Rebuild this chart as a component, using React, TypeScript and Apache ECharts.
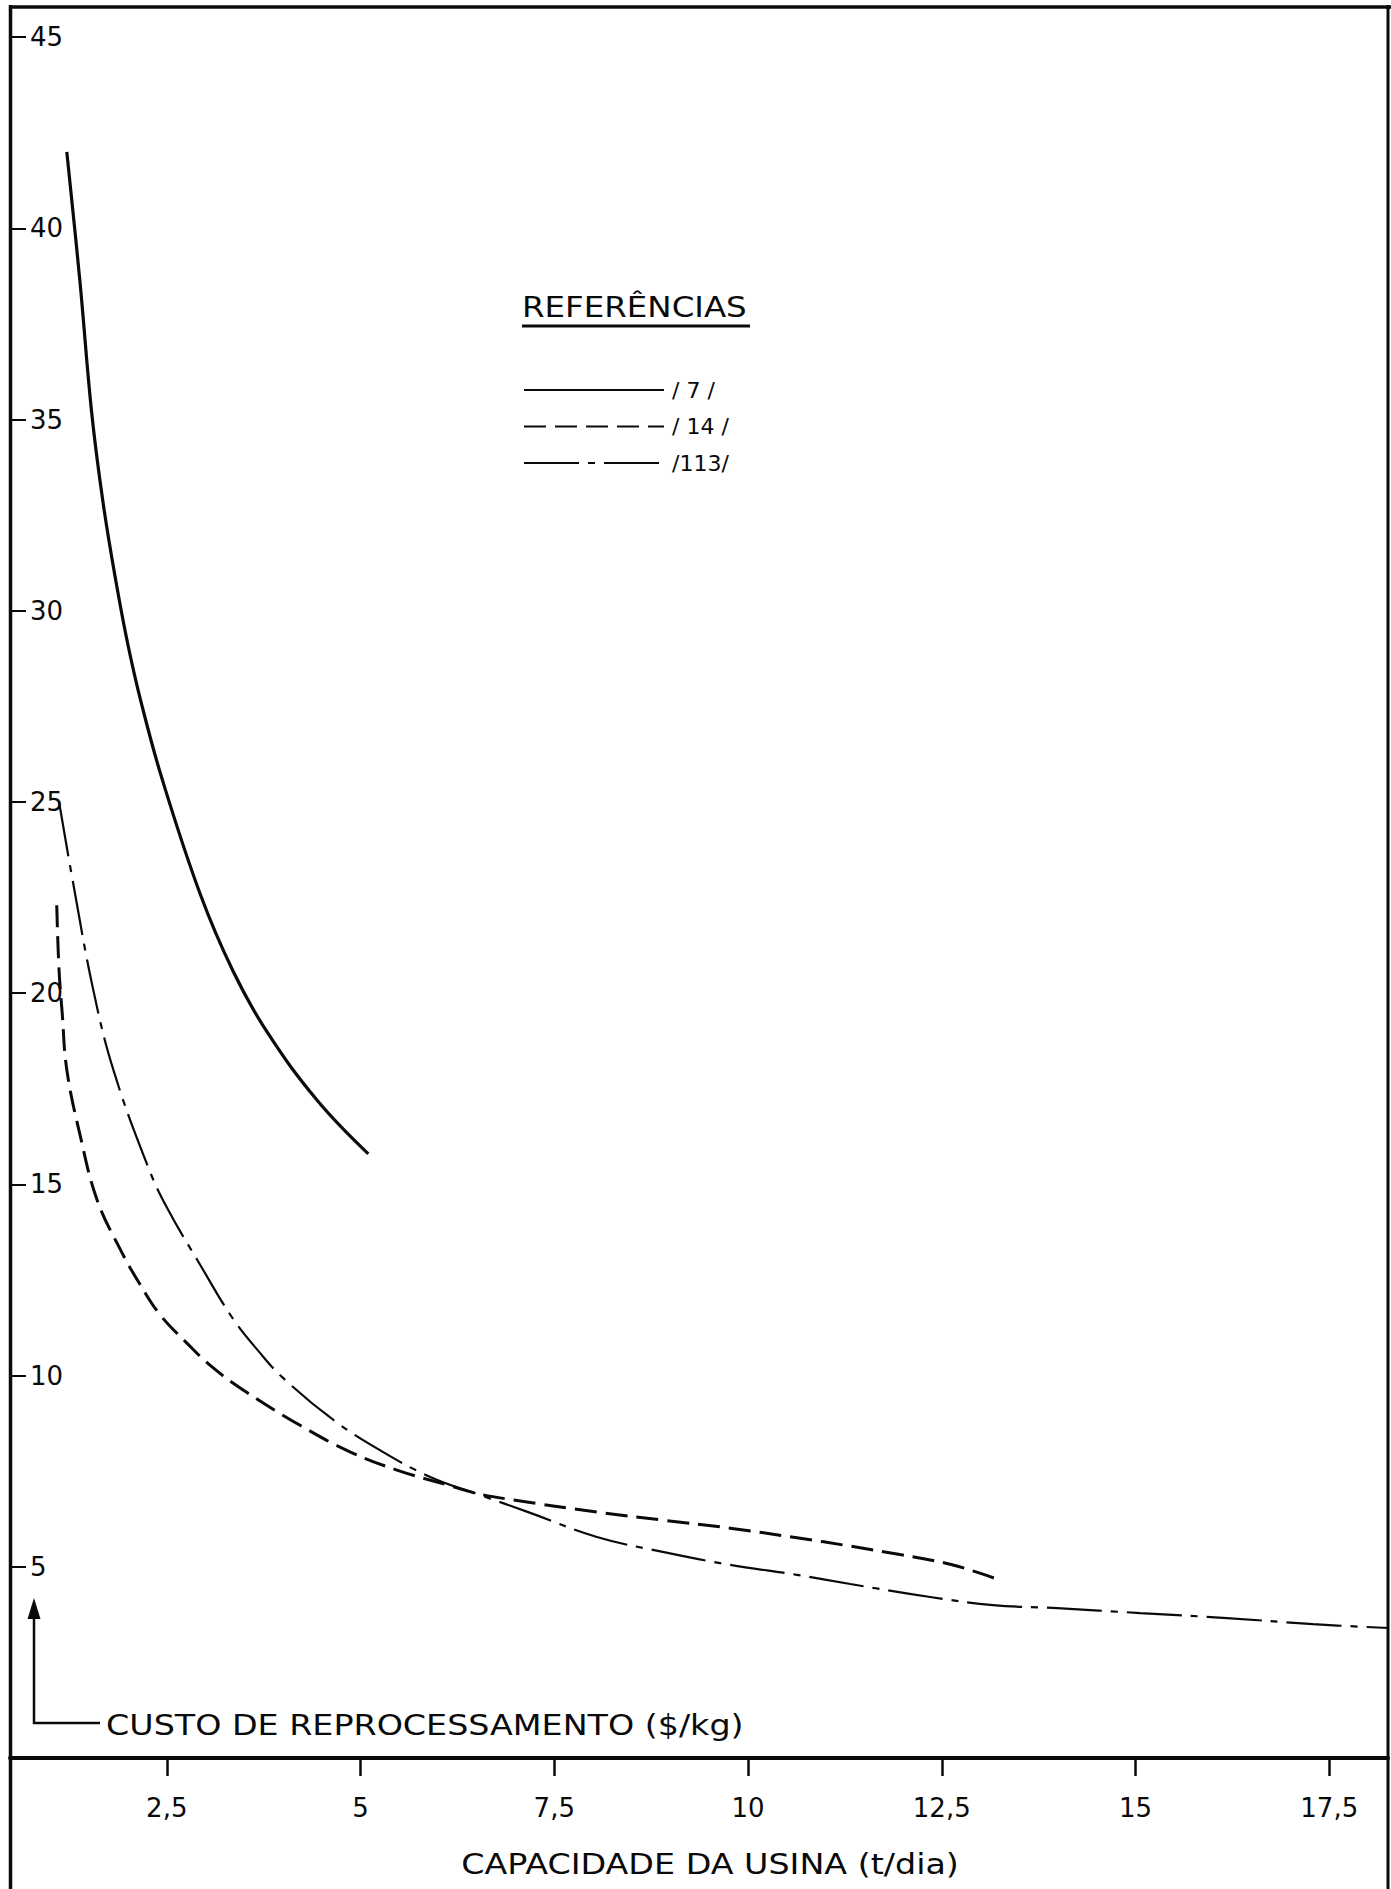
import React, { useEffect, useRef } from "react";
import * as echarts from "echarts";

// ---- Axis ticks ----
const xTickValues = [2.5, 5, 7.5, 10, 12.5, 15, 17.5];
const yTickValues = [5, 10, 15, 20, 25, 30, 35, 40, 45];

// ---- Series: /7/ (solid) ----
const ref7X = [1.21, 1.38, 1.53, 1.68, 1.85, 2.0, 2.17, 2.44, 2.93, 3.35, 3.79, 4.44, 5.1];
const ref7Y = [42.0, 38.6, 35.2, 32.8, 30.7, 29.1, 27.6, 25.6, 22.6, 20.6, 19.0, 17.2, 15.8];

// ---- Series: /14/ (dashed) ----
const ref14X = [1.08, 1.11, 1.15, 1.21, 1.38, 1.6, 1.9, 2.15, 2.41, 2.76, 3.1, 3.54, 4.22, 4.87, 5.47, 6.12, 6.54, 6.97, 8.05, 8.9, 9.77, 10.63, 11.32, 11.96, 12.3, 12.62, 12.92, 13.21];
const ref14Y = [22.3, 20.6, 19.5, 18.0, 16.3, 14.6, 13.3, 12.4, 11.6, 10.85, 10.2, 9.55, 8.7, 8.0, 7.53, 7.14, 6.9, 6.75, 6.43, 6.22, 6.01, 5.76, 5.54, 5.32, 5.2, 5.06, 4.88, 4.68];

// ---- Series: /113/ (dash-dot) ----
const ref113X = [1.11, 1.29, 1.55, 1.81, 2.25, 2.5, 2.93, 3.35, 3.7, 4.0, 4.65, 5.25, 5.9, 6.54, 7.19, 8.05, 8.9, 9.77, 10.63, 11.32, 12.35, 13.16, 13.99, 15.06, 16.18, 17.29, 18.26];
const ref113Y = [25.0, 22.9, 20.1, 18.0, 15.5, 14.4, 12.9, 11.5, 10.6, 9.94, 8.84, 8.05, 7.35, 6.88, 6.41, 5.78, 5.39, 5.05, 4.79, 4.55, 4.21, 4.0, 3.92, 3.79, 3.66, 3.5, 3.4];

const seriesNames = ["/ 7 /", "/ 14 /", "/113/"];
const legendTitle = "REFERÊNCIAS";
const xAxisTitle = "CAPACIDADE DA USINA (t/dia)";
const yAxisTitle = "CUSTO DE REPROCESSAMENTO ($/kg)";

const FONT = "DejaVu Sans";
const INK = "#0a0a0a";

const zip = (xs: number[], ys: number[]) => xs.map((x, i) => [x, ys[i]]);

export default function App() {
  const ref = useRef<HTMLDivElement>(null);

  useEffect(() => {
    if (!ref.current) return;
    const chart = echarts.init(ref.current, null, { renderer: "svg" });

    const option: any = {
      animation: false,
      backgroundColor: "#ffffff",
      color: [INK, INK, INK],
      grid: { left: 10, right: 3, top: 7, bottom: 131, containLabel: false },
      xAxis: {
        type: "value",
        min: 0.477,
        max: 18.258,
        axisLine: { show: true, onZero: false, lineStyle: { color: INK, width: 4 } },
        axisTick: {
          show: true,
          customValues: xTickValues,
          length: 18,
          lineStyle: { color: INK, width: 2.5 },
        },
        axisLabel: {
          show: true,
          customValues: xTickValues,
          margin: 37,
          fontSize: 26,
          color: INK,
          fontFamily: FONT,
          formatter: (v: number) => String(v).replace(".", ","),
        },
        splitLine: { show: false },
      },
      yAxis: {
        type: "value",
        min: 0,
        max: 45.79,
        axisLine: { show: false },
        axisTick: {
          show: true,
          inside: true,
          customValues: yTickValues,
          length: 16,
          lineStyle: { color: INK, width: 2 },
        },
        axisLabel: {
          show: true,
          inside: true,
          customValues: yTickValues,
          margin: 20,
          fontSize: 26,
          color: INK,
          fontFamily: FONT,
        },
        splitLine: { show: false },
      },
      legend: {
        orient: "vertical",
        left: 523,
        top: 379,
        padding: 0,
        itemWidth: 140,
        itemHeight: 14,
        itemGap: 14.5,
        selectedMode: false,
        data: seriesNames,
        itemStyle: { color: "rgba(0,0,0,0)", borderWidth: 0, opacity: 0 },
        textStyle: { fontSize: 22, color: INK, fontFamily: FONT, lineHeight: 22, padding: [0, 0, 0, 3] },
      },
      series: [
        {
          type: "line",
          name: seriesNames[0],
          data: zip(ref7X, ref7Y),
          symbol: "none",
          smooth: 0.4,
          lineStyle: { color: INK, width: 3.2, type: "solid" },
        },
        {
          type: "line",
          name: seriesNames[1],
          data: zip(ref14X, ref14Y),
          symbol: "none",
          smooth: 0.4,
          lineStyle: { color: INK, width: 3, type: [22, 9] },
        },
        {
          type: "line",
          name: seriesNames[2],
          data: zip(ref113X, ref113Y),
          symbol: "none",
          smooth: 0.4,
          lineStyle: { color: INK, width: 2.2, type: [55, 9, 7, 9] },
        },
      ],
      graphic: [
        // frame
        { type: "line", shape: { x1: 10.5, y1: 5, x2: 10.5, y2: 1889 }, style: { stroke: INK, lineWidth: 3.5 } },
        { type: "line", shape: { x1: 1388, y1: 5, x2: 1388, y2: 1889 }, style: { stroke: INK, lineWidth: 3 } },
        { type: "line", shape: { x1: 9, y1: 7, x2: 1391, y2: 7 }, style: { stroke: INK, lineWidth: 3.5 } },
        // legend title
        {
          type: "text",
          x: 522,
          y: 307,
          scaleX: 1.16,
          style: { text: legendTitle, fontSize: 28, fontFamily: FONT, fill: INK, verticalAlign: "middle", textAlign: "left" },
        },
        { type: "line", shape: { x1: 522, y1: 326, x2: 750, y2: 326 }, style: { stroke: INK, lineWidth: 3 } },
        // y-axis title with arrow
        { type: "polyline", shape: { points: [[100, 1723], [34, 1723], [34, 1614]] }, style: { stroke: INK, lineWidth: 2.5, fill: "none" } },
        { type: "polygon", shape: { points: [[34, 1598], [27.5, 1619], [40.5, 1619]] }, style: { fill: INK } },
        {
          type: "text",
          x: 106,
          y: 1725,
          scaleX: 1.19,
          style: { text: yAxisTitle, fontSize: 28, fontFamily: FONT, fill: INK, verticalAlign: "middle", textAlign: "left" },
        },
        // x-axis title
        {
          type: "text",
          x: 710,
          y: 1864,
          scaleX: 1.19,
          style: { text: xAxisTitle, fontSize: 28, fontFamily: FONT, fill: INK, verticalAlign: "middle", textAlign: "center" },
        },
      ],
    };

    chart.setOption(option);
    return () => chart.dispose();
  }, []);

  return (
    <div
      ref={ref}
      style={{ position: "absolute", left: 0, top: 0, width: 1391, height: 1889, background: "#fff" }}
    />
  );
}
